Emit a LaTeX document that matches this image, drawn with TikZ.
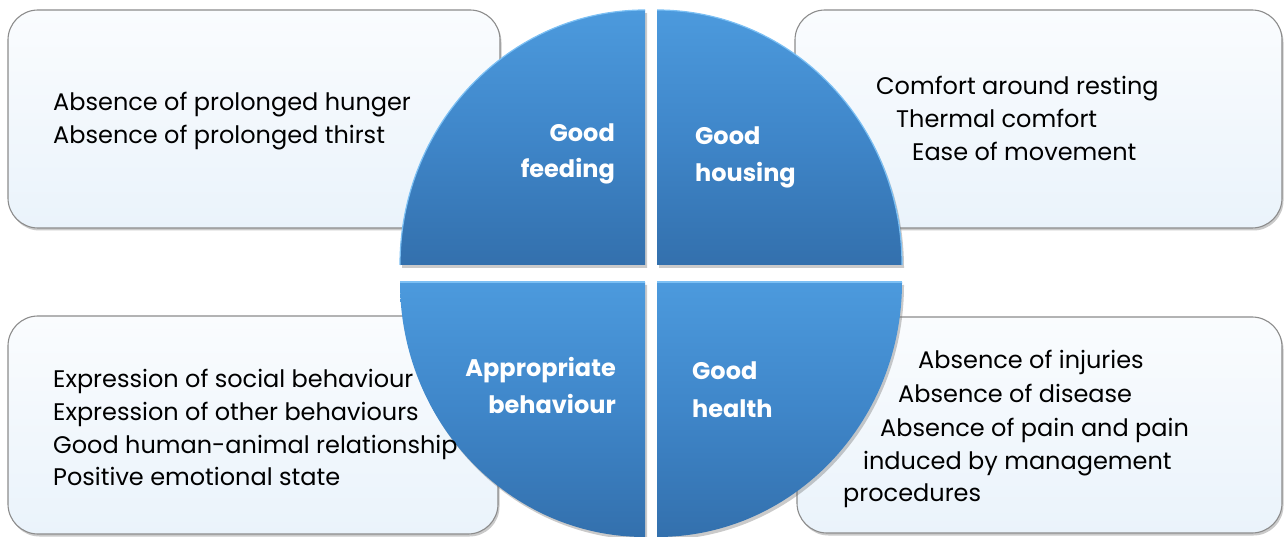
\documentclass[tikz,border=0pt]{standalone}
\usepackage{fontspec}
\setmainfont{Poppins}
\usetikzlibrary{shadows}
\definecolor{boxtop}{HTML}{FAFCFE}
\definecolor{boxbot}{HTML}{EAF3FB}
\definecolor{boxline}{HTML}{8C8C8C}
\definecolor{qtop}{HTML}{4C9ADD}
\definecolor{qmid}{HTML}{3F86C9}
\definecolor{qbot}{HTML}{3370AD}
\definecolor{qhi}{HTML}{7CC0F4}
\tikzset{
  infobox/.style={draw=boxline, line width=1.1pt, rounded corners=30pt,
    top color=boxtop, bottom color=boxbot,
    drop shadow={shadow xshift=1.5pt, shadow yshift=-2.5pt, opacity=0.35, fill=black!60}},
  quad/.style={top color=qtop, bottom color=qbot, middle color=qmid,
    drop shadow={shadow xshift=2pt, shadow yshift=-3pt, opacity=0.35, fill=black!60}},
  hilite/.style={draw=qhi, line width=1.2pt},
  itemtxt/.style={anchor=base west, inner sep=0pt, font=\fontsize{24}{30}\selectfont, text=black},
  qtxtr/.style={anchor=base east, inner sep=0pt, font=\fontsize{24}{30}\selectfont\bfseries, text=white},
  qtxtl/.style={anchor=base west, inner sep=0pt, font=\fontsize{24}{30}\selectfont\bfseries, text=white}
}
\begin{document}
\begin{tikzpicture}[x=1pt,y=-1pt]
\useasboundingbox (0,0) rectangle (1285,537);
% boxes
\path[infobox] (8,10) rectangle (500,228);
\path[infobox] (795,10) rectangle (1282,228);
\path[infobox] (8,316) rectangle (498,534);
\path[infobox] (797,317) rectangle (1282,533);
% quadrants
\path[quad] (645,265) -- (400,265) arc[start angle=180, end angle=270, x radius=245, y radius=255] -- cycle;
\path[quad] (657,265) -- (657,10) arc[start angle=270, end angle=360, x radius=245, y radius=255] -- cycle;
\path[quad] (645,282) -- (400,282) arc[start angle=180, end angle=90, x radius=245, y radius=255] -- cycle;
\path[quad] (657,282) -- (902,282) arc[start angle=0, end angle=90, x radius=245, y radius=255] -- cycle;
% highlights
\draw[hilite] (400,265) arc[start angle=180, end angle=270, x radius=245, y radius=255];
\draw[hilite] (657,10) arc[start angle=270, end angle=360, x radius=245, y radius=255];
\draw[hilite] (400,282) -- (645,282);
\draw[hilite] (657,282) -- (902,282);
% top-left text
\node[itemtxt] (f1) at (53,111) {Absence of prolonged hunger};
\node[itemtxt] (f2) at (53,144) {Absence of prolonged thirst};
% top-right text
\node[itemtxt] (h1) at (876,95) {Comfort around resting};
\node[itemtxt] (h2) at (896,128) {Thermal comfort};
\node[itemtxt] (h3) at (912,161) {Ease of movement};
% bottom-left text
\node[itemtxt] (b1) at (53,387) {Expression of social behaviour};
\node[itemtxt] (b2) at (53,420) {Expression of other behaviours};
\node[itemtxt] (b3) at (53,453) {Good human-animal relationship};
\node[itemtxt] (b4) at (53,485) {Positive emotional state};
% bottom-right text
\node[itemtxt] (g1) at (918,368) {Absence of injuries};
\node[itemtxt] (g2) at (898,402) {Absence of disease};
\node[itemtxt] (g3) at (880,436) {Absence of pain and pain};
\node[itemtxt] (g4) at (863,469) {induced by management};
\node[itemtxt] (g5) at (843,501) {procedures};
% quadrant labels
\node[qtxtr] (qf1) at (615,142) {Good};
\node[qtxtr] (qf2) at (615,178) {feeding};
\node[qtxtl] (qh1) at (695,145) {Good};
\node[qtxtl] (qh2) at (695,182) {housing};
\node[qtxtr] (qb1) at (616,376) {Appropriate};
\node[qtxtr] (qb2) at (616,413) {behaviour};
\node[qtxtl] (qg1) at (692,379) {Good};
\node[qtxtl] (qg2) at (692,417) {health};
\end{tikzpicture}
\end{document}
